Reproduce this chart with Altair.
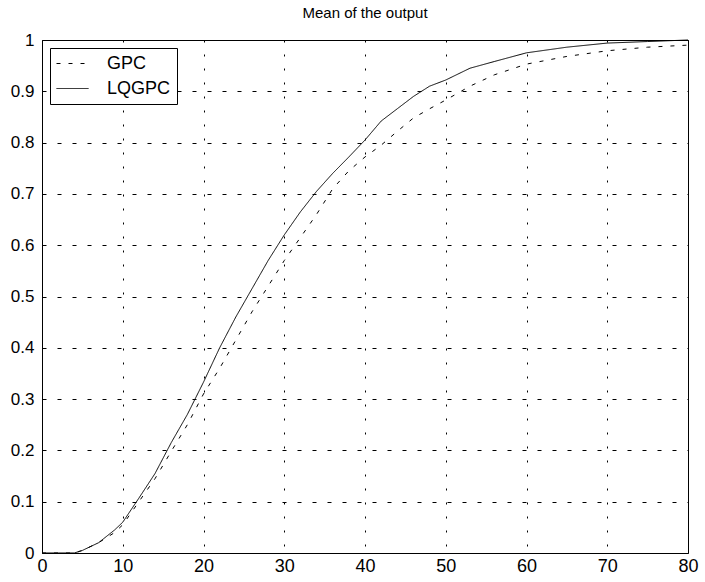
import altair as alt
import pandas as pd

x_vals = [0, 2, 4, 5, 7, 9, 10, 12, 14, 16, 18, 20, 22, 24, 26, 28, 30, 32, 34, 36,
          38, 40, 42, 44, 46, 48, 50, 53, 56, 60, 65, 70, 75, 80]
lqgpc = [0, 0, 0, 0.005, 0.02, 0.045, 0.06, 0.107, 0.155, 0.215, 0.27, 0.333, 0.40,
         0.46, 0.515, 0.57, 0.62, 0.665, 0.705, 0.74, 0.772, 0.805, 0.842, 0.866, 0.89,
         0.91, 0.922, 0.945, 0.958, 0.975, 0.986, 0.994, 0.997, 1.0]
gpc = [0, 0, 0, 0.005, 0.02, 0.04, 0.055, 0.10, 0.145, 0.198, 0.25, 0.31, 0.36, 0.415,
       0.47, 0.52, 0.57, 0.615, 0.66, 0.71, 0.745, 0.772, 0.795, 0.822, 0.848, 0.866,
       0.883, 0.91, 0.932, 0.953, 0.968, 0.979, 0.986, 0.99]
series = ["GPC", "LQGPC"]
x_ticks = [0, 10, 20, 30, 40, 50, 60, 70, 80]
y_ticks = [0, 0.1, 0.2, 0.3, 0.4, 0.5, 0.6, 0.7, 0.8, 0.9, 1]

rows = []
for name, vals in zip(series, [gpc, lqgpc]):
    for xv, yv in zip(x_vals, vals):
        rows.append({"x": xv, "y": yv, "series": name})
df = pd.DataFrame(rows)

font = "Liberation Sans"

chart = alt.Chart(df).mark_line(strokeWidth=1, color="black").encode(
    x=alt.X("x:Q", scale=alt.Scale(domain=[0, 80], nice=False),
            axis=alt.Axis(values=x_ticks, title=None, format="d", gridDash=[2, 12],
                          labelFontSize=18, labelPadding=4, labelFlush=False,
                          labelOverlap=False, labelBound=False)),
    y=alt.Y("y:Q", scale=alt.Scale(domain=[0, 1], nice=False),
            axis=alt.Axis(values=y_ticks, title=None, format=".1~f", gridDash=[4, 11],
                          labelFontSize=17, labelPadding=8, labelFlush=False,
                          labelOverlap=False)),
    strokeDash=alt.StrokeDash(
        "series:N",
        scale=alt.Scale(domain=series, range=[[4, 8], [1, 0]]),
        legend=alt.Legend(title=None, orient="none", legendX=8, legendY=8,
                          symbolType="stroke", symbolSize=1024, symbolStrokeColor="black",
                          symbolStrokeWidth=1, labelFontSize=18, labelFont=font,
                          labelColor="black", strokeColor="black", fillColor="white",
                          padding=6, rowPadding=6, labelOffset=18, clipHeight=19),
    ),
    detail="series:N",
).properties(
    width=646, height=513,
    title=alt.TitleParams("Mean of the output", font=font, fontSize=15,
                          fontWeight="normal", color="black", offset=10),
).configure(
    autosize=alt.AutoSizeParams(type="none"),
    padding={"left": 42, "top": 40, "right": 17, "bottom": 29},
    background="white",
).configure_view(
    stroke="black", strokeWidth=1,
).configure_axis(
    grid=True, gridColor="black", gridOpacity=1, gridWidth=1,
    domain=False, ticks=False,
    labelFont=font, labelColor="black",
)

chart.save("out.html", embed_options={"renderer": "svg", "actions": False})
